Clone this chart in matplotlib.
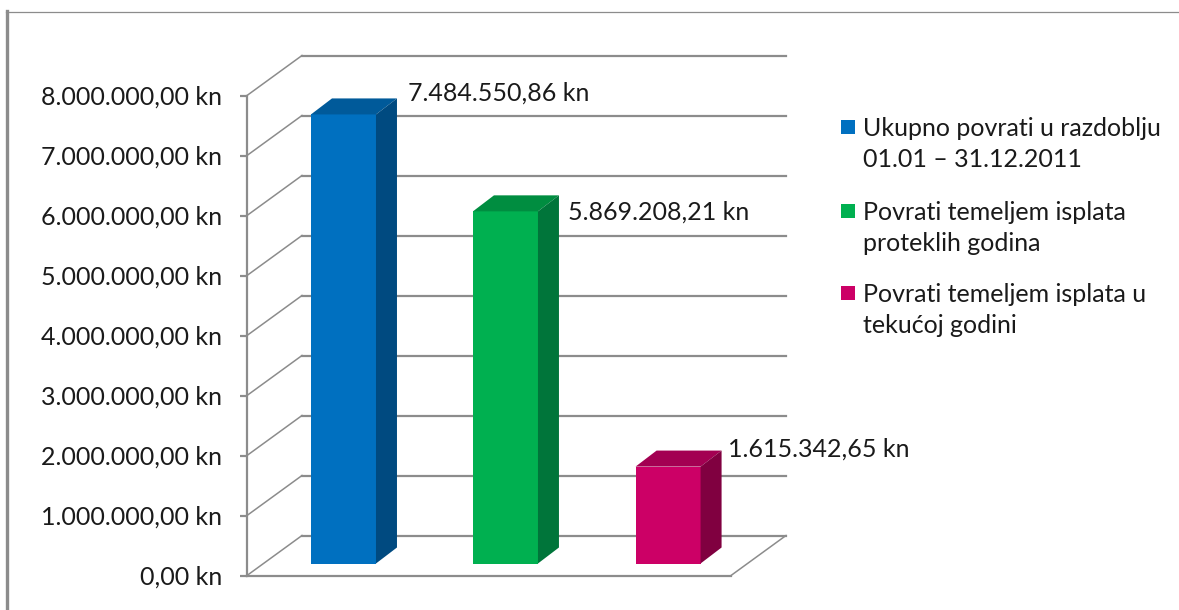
import matplotlib
matplotlib.use("Agg")
import matplotlib.pyplot as plt
from matplotlib.lines import Line2D
from matplotlib.patches import Rectangle, Polygon

plt.rcParams['font.family'] = ['Lato', 'DejaVu Sans']

categories = ["Ukupno povrati u razdoblju\n01.01 – 31.12.2011",
              "Povrati temeljem isplata\nproteklih godina",
              "Povrati temeljem isplata u\ntekućoj godini"]
values = [7484550.86, 5869208.21, 1615342.65]
value_labels = ["7.484.550,86 kn", "5.869.208,21 kn", "1.615.342,65 kn"]
front_colors = ["#0070C0", "#00B050", "#CC0066"]
top_colors = ["#005A9A", "#008D40", "#A30052"]
side_colors = ["#004A80", "#00753A", "#800040"]
ticks = [0, 1000000, 2000000, 3000000, 4000000, 5000000, 6000000, 7000000, 8000000]
tick_labels = ["0,00 kn", "1.000.000,00 kn", "2.000.000,00 kn", "3.000.000,00 kn",
               "4.000.000,00 kn", "5.000.000,00 kn", "6.000.000,00 kn", "7.000.000,00 kn",
               "8.000.000,00 kn"]

W, H = 1179, 610
GRAY = "#8C8C8C"
TEXT = "#1A1A1A"

fig = plt.figure(figsize=(W / 100, H / 100), dpi=100)
ax = fig.add_axes([247 / W, (H - 575.5) / H, 484 / W, 480 / H])
ax.set_xlim(0, 3)
ax.set_ylim(0, 8000000)

# pixel sizes converted to data units, for the fake 3d
px_x = 3 / 484
px_y = 8000000 / 480
wall_dx, wall_dy = 55 * px_x, 40 * px_y
bar_dx, bar_dy = 21 * px_x, 16 * px_y
base = 12 * px_y
width = 65 * px_x
centers = [0.598, 1.602, 2.610]
# label offset from the back top corner of each bar, in pixels
label_dx = [11, 9, 6]
label_dy = [5, -17, 2]

# walls and floor
for t in ticks:
    ax.plot([0, wall_dx], [t, t + wall_dy], color=GRAY, lw=1.1, clip_on=False, zorder=1)
    ax.plot([wall_dx, 3 + wall_dx], [t + wall_dy, t + wall_dy], color=GRAY, lw=1.6,
            clip_on=False, zorder=1)
ax.plot([0, 3], [0, 0], color=GRAY, lw=1.6, clip_on=False, zorder=1)
ax.plot([3, 3 + wall_dx], [0, wall_dy], color=GRAY, lw=1.1, clip_on=False, zorder=1)

# bars
for i in range(len(values)):
    c = centers[i]
    v = values[i]
    left = c - width / 2
    right = c + width / 2
    ax.bar(c, v, width=width, bottom=base, color=front_colors[i], zorder=3, clip_on=False)
    top = base + v
    ax.add_patch(Polygon([(left, top), (right, top), (right + bar_dx, top + bar_dy),
                          (left + bar_dx, top + bar_dy)],
                         facecolor=top_colors[i], edgecolor="none", zorder=3, clip_on=False))
    ax.add_patch(Polygon([(right, base), (right + bar_dx, base + bar_dy),
                          (right + bar_dx, top + bar_dy), (right, top)],
                         facecolor=side_colors[i], edgecolor="none", zorder=3, clip_on=False))
    ax.text(right + bar_dx + label_dx[i] * px_x, top + bar_dy + label_dy[i] * px_y,
            value_labels[i], fontsize=18, color=TEXT, ha="left", va="center", zorder=4)

# axis
for s in ["top", "right", "bottom"]:
    ax.spines[s].set_visible(False)
ax.spines["left"].set_color(GRAY)
ax.spines["left"].set_linewidth(1.6)
ax.patch.set_alpha(0)
ax.set_xticks([])
ax.set_yticks(ticks)
ax.set_yticklabels(tick_labels, fontsize=18, color=TEXT)
ax.tick_params(axis="y", length=5, width=1.6, color=GRAY, pad=13)

# legend, squares line up with the first text line
legend_y = [127, 211, 293]
for i in range(len(categories)):
    fig.add_artist(Rectangle((841 / W, 1 - (legend_y[i] + 7) / H), 14 / W, 14 / H,
                             facecolor=front_colors[i], edgecolor="none",
                             transform=fig.transFigure))
    fig.text(863 / W, 1 - (legend_y[i] - 10) / H, categories[i], fontsize=18, color=TEXT,
             ha="left", va="top", linespacing=1.4)

# outer frame
fig.add_artist(Line2D([7 / W, 7 / W], [0, 1 - 11 / H], color=GRAY, lw=2.4))
fig.add_artist(Line2D([6 / W, 1], [1 - 11.5 / H, 1 - 11.5 / H], color=GRAY, lw=0.9))

fig.savefig("out.png", dpi=100)
